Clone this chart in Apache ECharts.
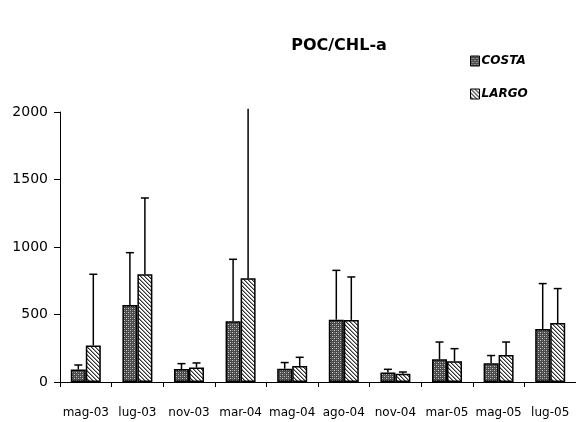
<!DOCTYPE html>
<html><head><meta charset="utf-8">
<script src="https://cdn.jsdelivr.net/npm/echarts@6/dist/echarts.min.js"></script>
<style>html,body{margin:0;padding:0;background:#fff}#c{width:576px;height:422px}</style>
</head><body><div id="c"></div>
<script>
const categories = ['mag-03','lug-03','nov-03','mar-04','mag-04','ago-04','nov-04','mar-05','mag-05','lug-05'];
const costa = [92, 570, 96, 450, 99, 462, 70, 168, 139, 393];
const costaErrTop = [126, 958, 136, 909, 144, 827, 94, 296, 196, 729];
const largo = [270, 798, 107, 768, 119, 460, 62, 153, 200, 437];
const largoErrTop = [798, 1363, 141, 2030, 183, 778, 74, 247, 296, 692];
const yTicks = [0, 500, 1000, 1500, 2000];

const FONT = '"Comic Sans MS", "DejaVu Sans", sans-serif';

function makeCosta(){
  const c = document.createElement('canvas'); c.width = 4; c.height = 4;
  const x = c.getContext('2d');
  x.fillStyle = '#4a4a4a'; x.fillRect(0,0,4,4);
  x.fillStyle = '#c8c8c8'; x.fillRect(0,0,1,1); x.fillRect(2,2,1,1);
  x.fillStyle = '#888'; x.fillRect(2,0,1,1); x.fillRect(0,2,1,1);
  return c;
}
function makeLargo(){
  const c = document.createElement('canvas'); c.width = 4; c.height = 4;
  const x = c.getContext('2d');
  x.fillStyle = '#ffffff'; x.fillRect(0,0,4,4);
  x.fillStyle = '#333';
  for (let i=0;i<4;i++){ x.fillRect(i,i,1,1); }
  x.fillStyle = '#999';
  for (let i=0;i<4;i++){ x.fillRect((i+1)%4,i,1,1); }
  return c;
}
const costaFill = {image: makeCosta(), repeat: 'repeat'};
const largoFill = {image: makeLargo(), repeat: 'repeat'};

const BW = 15;
const AXMAX = 2000;
function errSeries(tops, offset){
  return {
    type: 'custom',
    data: tops.map((t,i)=>[i, t]),
    encode: {x: 0, y: 1},
    z: 1,
    clip: false,
    renderItem: function(params, api){
      const idx = api.value(0);
      const top = api.value(1);
      const base = (offset < 0 ? costa : largo)[idx];
      const capped = Math.min(top, 2025);
      const p0 = api.coord([idx, base]);
      const p1 = api.coord([idx, capped]);
      const x = p0[0] + offset;
      const children = [{
        type: 'line', shape: {x1: x, y1: p0[1], x2: x, y2: p1[1]},
        style: {stroke: '#000', lineWidth: 1.5}
      }];
      if (top <= AXMAX) {
        children.push({type: 'line', shape: {x1: x-4, y1: p1[1], x2: x+4, y2: p1[1]},
          style: {stroke: '#000', lineWidth: 1.5}});
      }
      return {type: 'group', children: children};
    }
  };
}

const chart = echarts.init(document.getElementById('c'), null, {renderer: 'canvas'});
chart.setOption({
  animation: false,
  backgroundColor: '#fff',
  title: {
    text: 'POC/CHL-a', left: 334, top: 33, textAlign: 'center',
    textStyle: {fontFamily: FONT, fontWeight: 'bold', fontSize: 16, color: '#000'}
  },
  legend: {
    orient: 'vertical', left: 465, top: 50, itemWidth: 9, itemHeight: 10, itemGap: 21,
    icon: 'rect',
    textStyle: {fontFamily: FONT, fontStyle: 'italic', fontWeight: 'bold', fontSize: 12, color: '#000', padding: [0,0,0,-3]},
    data: [
      {name: 'COSTA', itemStyle: {color: costaFill, borderColor: '#000', borderWidth: 1}},
      {name: 'LARGO', itemStyle: {color: largoFill, borderColor: '#000', borderWidth: 1}}
    ]
  },
  grid: {left: 60, top: 112, width: 522, height: 270, containLabel: false},
  xAxis: {
    type: 'category', data: categories,
    axisLine: {lineStyle: {color: '#000', width: 1}},
    axisTick: {show: true, length: 5, interval: 0, lineStyle: {color: '#000'}},
    axisLabel: {fontFamily: FONT, fontSize: 12, color: '#000', margin: 25, interval: 0}
  },
  yAxis: {
    type: 'value', min: 0, max: 2000, interval: 500,
    axisLine: {show: true, lineStyle: {color: '#000', width: 1}},
    axisTick: {show: true, length: 6, lineStyle: {color: '#000'}},
    splitLine: {show: false},
    axisLabel: {fontFamily: FONT, fontSize: 14, color: '#000', margin: 12,
      formatter: v => yTicks.includes(v) ? String(v) : ''}
  },
  series: [
    {name: 'COSTA', type: 'bar', data: costa, barWidth: BW, barGap: '0%', z: 2,
     itemStyle: {color: costaFill, borderColor: '#000', borderWidth: 1.5}},
    {name: 'LARGO', type: 'bar', data: largo, barWidth: BW, barGap: '0%', z: 2,
     itemStyle: {color: largoFill, borderColor: '#000', borderWidth: 1.5}},
    errSeries(costaErrTop, -BW/2),
    errSeries(largoErrTop, BW/2)
  ]
});
</script></body></html>
